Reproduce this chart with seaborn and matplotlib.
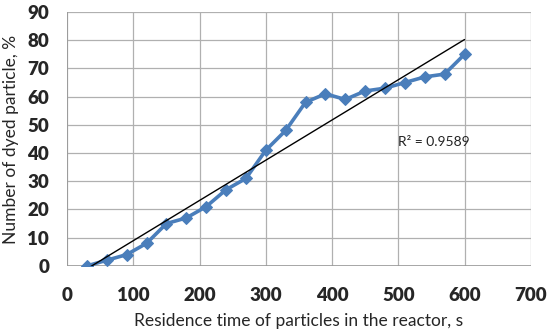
import numpy as np
import matplotlib.pyplot as plt
import pandas as pd
import seaborn as sns

# Residence time (s) and share of dyed particles (%)
time_s = [30, 60, 90, 120, 150, 180, 210, 240, 270, 300,
          330, 360, 390, 420, 450, 480, 510, 540, 570, 600]
dyed_pct = [0, 2, 4, 8, 15, 17, 21, 27, 31, 41,
            48, 58, 61, 59, 62, 63, 65, 67, 68, 75]
x_ticks = [0, 100, 200, 300, 400, 500, 600, 700]
y_ticks = [0, 10, 20, 30, 40, 50, 60, 70, 80, 90]

df = pd.DataFrame({'time': time_s, 'dyed': dyed_pct})

sns.set_theme(style='whitegrid')
plt.rcParams['font.family'] = ['Lato', 'DejaVu Sans']

fig = plt.figure(figsize=(5.5, 3.34), dpi=100)
ax = fig.add_axes([0.122, 0.204, 0.843, 0.760])

# linear trend line (Excel style)
slope, intercept = np.polyfit(df['time'], df['dyed'], 1)
fit = slope * df['time'] + intercept

sns.lineplot(data=df, x='time', y='dyed', ax=ax, color='#4a7ebb', linewidth=2.6,
             marker='D', markersize=6, markeredgecolor='#4a7ebb', zorder=3)
sns.lineplot(x=df['time'], y=fit, ax=ax, color='black', linewidth=1.0, zorder=4)

ax.text(499, 44, 'R² = 0.9589', fontsize=10, va='center', ha='left', color='#222222')

ax.set_xlim(0, 700)
ax.set_ylim(0, 90)
ax.set_xticks(x_ticks)
ax.set_yticks(y_ticks)
ax.tick_params(axis='x', labelsize=13.5, pad=9)
ax.tick_params(axis='y', labelsize=13.5, pad=7)
for lbl in ax.get_xticklabels() + ax.get_yticklabels():
    lbl.set_fontweight('heavy')
ax.grid(True, color='#b0b0b0', linewidth=0.9)
for s in ax.spines.values():
    s.set_visible(False)
ax.axhline(0, color='#999999', linewidth=1.2, zorder=2)
ax.axvline(0, color='#999999', linewidth=1.2, zorder=2)

ax.set_xlabel('Residence time of particles in the reactor, s', fontsize=12.5, labelpad=7)
ax.set_ylabel('Number of dyed particle, %', fontsize=12.5, labelpad=6)

fig.savefig('out.png', dpi=100, facecolor='white')
